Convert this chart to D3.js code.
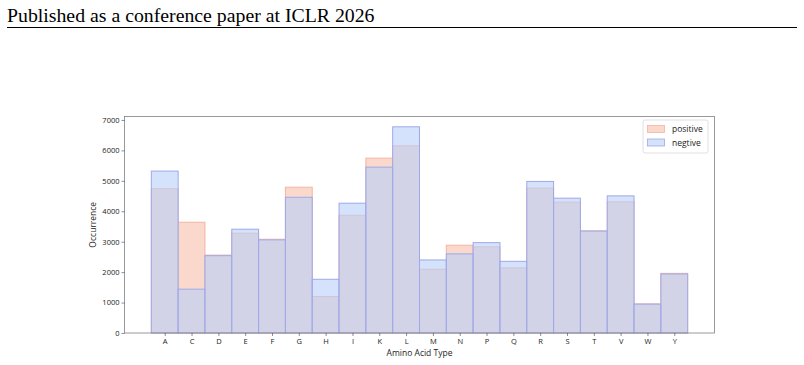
<!DOCTYPE html>
<html>
<head>
<meta charset="utf-8">
<script src="https://cdn.jsdelivr.net/npm/d3@7"></script>
<style>
  body { margin: 0; background: #fff; }
  svg text { font-family: "Open Sans", "Noto Sans", sans-serif; }
</style>
</head>
<body>
<svg id="vis" width="804" height="365"></svg>
<script>
// amino acid counts
var aminoAcids = ["A","C","D","E","F","G","H","I","K","L","M","N","P","Q","R","S","T","V","W","Y"];
var positive = [4740,3640,2560,3280,3080,4790,1200,3870,5745,6150,2095,2885,2830,2140,4760,4300,3355,4310,955,1960];
var negtive  = [5320,1440,2540,3410,3060,4460,1765,4265,5450,6775,2400,2600,2970,2355,4980,4430,3350,4505,950,1940];
var yTicks = [0,1000,2000,3000,4000,5000,6000,7000];

var svg = d3.select("#vis");

// page header like the paper
svg.append("text")
  .attr("x", 7).attr("y", 21.5)
  .style("font-family", "'Liberation Serif', 'Times New Roman', serif")
  .style("font-size", "19.8px")
  .attr("fill", "#000")
  .text("Published as a conference paper at ICLR 2026");
svg.append("line")
  .attr("x1", 7).attr("x2", 797)
  .attr("y1", 27.5).attr("y2", 27.5)
  .attr("stroke", "#000").attr("stroke-width", 1);

var margin = {left: 124.5, right: 714.5, top: 116.5, bottom: 333};

var data = aminoAcids.map(function(a, i) {
  return {aa: a, i: i, pos: positive[i], neg: negtive[i]};
});

var x = d3.scaleLinear().domain([-1, aminoAcids.length + 1]).range([margin.left, margin.right]);
var y = d3.scaleLinear().domain([0, d3.max(negtive.concat(positive)) * 1.05]).range([margin.bottom, margin.top]);

var g = svg.append("g");

function bars(cls, key, fill, fillOpacity, stroke) {
  g.selectAll("." + cls).data(data).enter().append("rect")
    .attr("class", cls)
    .attr("x", function(d) { return x(d.i); })
    .attr("width", function(d) { return x(d.i + 1) - x(d.i); })
    .attr("y", function(d) { return y(d[key]); })
    .attr("height", function(d) { return y(0) - y(d[key]); })
    .attr("fill", fill)
    .attr("fill-opacity", fillOpacity)
    .attr("stroke", stroke)
    .attr("stroke-width", 1);
}

// positive underneath, negative drawn on top with alpha
bars("pBar", "pos", "#fad9cc", 1, "#f3b4a4");
bars("nBar", "neg", "rgb(186,207,248)", 0.61, "#9ea9e8");

// frame
svg.append("rect")
  .attr("x", margin.left).attr("y", margin.top)
  .attr("width", margin.right - margin.left)
  .attr("height", margin.bottom - margin.top)
  .attr("fill", "none").attr("stroke", "#808080").attr("stroke-width", 0.8);

// x axis
var xAxis = svg.append("g")
  .attr("transform", "translate(0," + margin.bottom + ")")
  .call(d3.axisBottom(x)
    .tickValues(aminoAcids.map(function(a, i) { return i + 0.5; }))
    .tickFormat(function(v) { return aminoAcids[Math.floor(v)]; })
    .tickSize(3).tickPadding(3));
xAxis.select(".domain").remove();
xAxis.selectAll("line").attr("stroke", "#444").attr("stroke-width", 0.6);
xAxis.selectAll("text").style("font-size", "7.5px").attr("fill", "#222")
  .style("font-family", "'Open Sans', sans-serif");

// y axis
var yAxis = svg.append("g")
  .attr("transform", "translate(" + margin.left + ",0)")
  .call(d3.axisLeft(y).tickValues(yTicks).tickFormat(d3.format("d")).tickSize(3).tickPadding(2));
yAxis.select(".domain").remove();
yAxis.selectAll("line").attr("stroke", "#444").attr("stroke-width", 0.6);
yAxis.selectAll("text").style("font-size", "7.5px").attr("fill", "#222")
  .style("font-family", "'Open Sans', sans-serif");

// axis titles
svg.append("text")
  .attr("x", (margin.left + margin.right) / 2).attr("y", 356)
  .attr("text-anchor", "middle")
  .style("font-size", "8.5px").attr("fill", "#222")
  .text("Amino Acid Type");

svg.append("text")
  .attr("transform", "translate(96," + ((margin.top + margin.bottom) / 2) + ") rotate(-90)")
  .attr("text-anchor", "middle")
  .style("font-size", "8.5px").attr("fill", "#222")
  .text("Occurrence");

// legend
var legend = svg.append("g").attr("transform", "translate(643,120)");
legend.append("rect")
  .attr("x", 0).attr("y", 0).attr("width", 65).attr("height", 33).attr("rx", 2)
  .attr("fill", "#fff").attr("stroke", "#d8d8d8").attr("stroke-width", 0.8);
var legendItems = [
  {label: "positive", fill: "#fad9cc", stroke: "#f3b4a4"},
  {label: "negtive", fill: "#d5e2fb", stroke: "#9ea9e8"}
];
legendItems.forEach(function(it, k) {
  legend.append("rect")
    .attr("x", 4.5).attr("y", 5.5 + k * 13.5).attr("width", 17).attr("height", 7)
    .attr("fill", it.fill).attr("stroke", it.stroke).attr("stroke-width", 0.8);
  legend.append("text")
    .attr("x", 29).attr("y", 12 + k * 13.5)
    .style("font-size", "8.5px").attr("fill", "#222")
    .text(it.label);
});
</script>
</body>
</html>
